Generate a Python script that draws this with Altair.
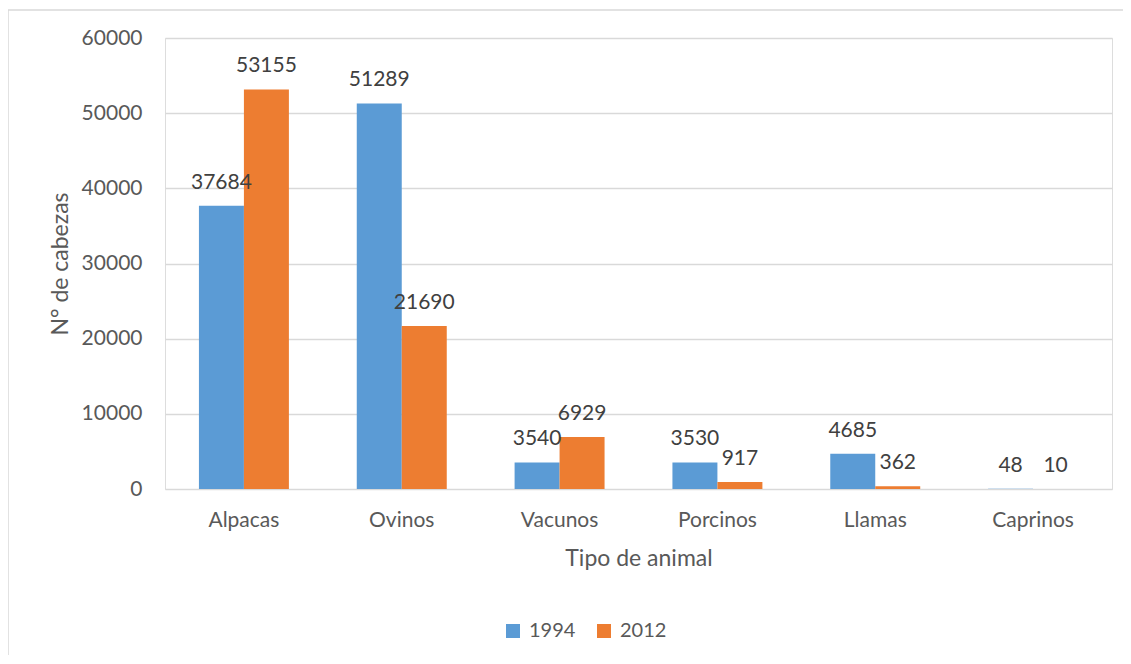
import altair as alt
import pandas as pd

categories = ["Alpacas", "Ovinos", "Vacunos", "Porcinos", "Llamas", "Caprinos"]
years = ["1994", "2012"]
values_1994 = [37684, 51289, 3540, 3530, 4685, 48]
values_2012 = [53155, 21690, 6929, 917, 362, 10]

rows = []
for c, a, b in zip(categories, values_1994, values_2012):
    rows.append({"animal": c, "year": "1994", "value": a})
    rows.append({"animal": c, "year": "2012", "value": b})
df = pd.DataFrame(rows)

FONT = "Lato"
W, H = 947, 451

x_enc = alt.X("animal:N", sort=categories,
              scale=alt.Scale(paddingInner=0.43, paddingOuter=0.215),
              axis=alt.Axis(title="Tipo de animal", labelAngle=0, ticks=False, domain=False,
                            labelFontSize=21, labelColor="#595959", labelPadding=20,
                            titleFontSize=23, titleColor="#595959", titleFontWeight="normal",
                            titlePadding=17, labelFont=FONT, titleFont=FONT))
y_enc = alt.Y("value:Q", scale=alt.Scale(domain=[0, 60000]),
              axis=alt.Axis(title="N° de cabezas", values=[0, 10000, 20000, 30000, 40000, 50000, 60000],
                            format="d", ticks=False, domain=False,
                            gridColor="#D9D9D9", gridWidth=1.3,
                            labelFontSize=21, labelColor="#595959", labelPadding=23,
                            titleFontSize=23, titleColor="#595959", titleFontWeight="normal",
                            titlePadding=9, labelFont=FONT, titleFont=FONT))
color_enc = alt.Color("year:N", sort=years,
                      scale=alt.Scale(domain=years, range=["#5B9BD5", "#ED7D31"]),
                      legend=alt.Legend(title=None, orient="none", legendX=338, legendY=583,
                                        direction="horizontal", columns=2, symbolType="square",
                                        symbolSize=196, symbolStrokeWidth=0, labelFontSize=20,
                                        labelColor="#595959", labelFont=FONT, labelOffset=6,
                                        columnPadding=18, padding=0))
xo = alt.XOffset("year:N", sort=years, scale=alt.Scale(paddingInner=0, paddingOuter=0))

one = pd.DataFrame({"d": [0]})
border_left = alt.Chart(one).mark_rule(color="#D9D9D9", strokeWidth=1.5, clip=False).encode(
    x=alt.value(-157), y=alt.value(-28), y2=alt.value(H + 300))
border_top = alt.Chart(one).mark_rule(color="#D9D9D9", strokeWidth=1.5, clip=False).encode(
    y=alt.value(-28), x=alt.value(-157), x2=alt.value(W + 300))

bars = alt.Chart(df).mark_bar().encode(x=x_enc, y=y_enc, color=color_enc, xOffset=xo)
labels = alt.Chart(df).mark_text(
    baseline="alphabetic", dy=-17, fontSize=21, color="#404040", font=FONT
).encode(x=alt.X("animal:N", sort=categories), y="value:Q", xOffset=xo, text="value:Q")

chart = alt.layer(border_left, border_top, bars, labels).properties(
    width=W, height=H,
    autosize=alt.AutoSizeParams(type="none"),
    padding={"left": 157, "top": 30, "right": 11, "bottom": 166},
).configure_view(stroke=None).configure(background="transparent")

chart.save("out.html", embed_options={"renderer": "svg", "actions": False})
